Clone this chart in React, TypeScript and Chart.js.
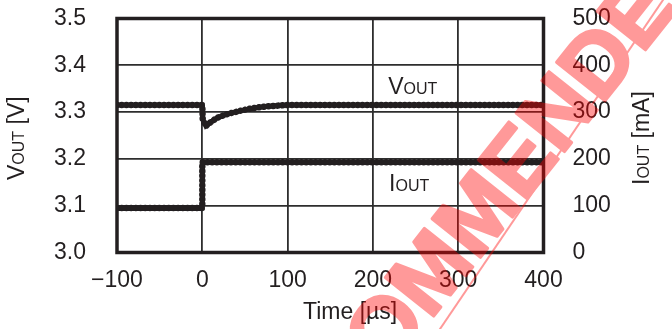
import React, { useEffect, useRef } from "react";
import { Chart, LineController, LineElement, PointElement, LinearScale } from "chart.js";

Chart.register(LineController, LineElement, PointElement, LinearScale);

// ---------- data ----------
const VOUT_TIME_US = [-100, 0, 0.5, 4, 8, 15, 20, 30, 36, 45, 55, 65, 75, 90, 100, 150, 200, 250, 300, 350, 400];
const VOUT_V = [3.315, 3.315, 3.285, 3.270, 3.276, 3.285, 3.290, 3.296, 3.299, 3.303, 3.307, 3.310, 3.312, 3.314, 3.315, 3.315, 3.315, 3.315, 3.315, 3.315, 3.315];

const IOUT_TIME_US = [-100, 0, 0, 100, 200, 300, 400];
const IOUT_MA = [95, 95, 193, 193, 193, 193, 193];

const X_RANGE = [-100, 400];
const X_STEP = 100;
const VOUT_RANGE = [3.0, 3.5];
const VOUT_STEP = 0.1;
const IOUT_RANGE = [0, 500];
const IOUT_STEP = 100;

const X_TITLE = "Time [µs]";
const WATERMARK = "NOT RECOMMENDED FOR NEW DESIGNS";

const FONT = '"Liberation Sans", Arial, Helvetica, sans-serif';
const INK = "#231f20";
const BIG = 23;
const SMALL = 16;

type Part = [string, number];

function drawParts(ctx: CanvasRenderingContext2D, parts: Part[], x: number, y: number, angle: number) {
  ctx.save();
  ctx.translate(x, y);
  ctx.rotate(angle);
  ctx.textBaseline = "alphabetic";
  ctx.textAlign = "left";
  ctx.fillStyle = INK;
  let cx = 0;
  for (const [t, s] of parts) {
    ctx.font = `${s}px ${FONT}`;
    ctx.fillText(t, cx, 0);
    cx += ctx.measureText(t).width;
  }
  ctx.restore();
}

const textPlugin = {
  id: "texts",
  afterDatasetsDraw(chart: any) {
    const { ctx, chartArea, scales } = chart;
    ctx.save();
    ctx.strokeStyle = INK;
    ctx.lineWidth = 3.5;
    ctx.strokeRect(chartArea.left, chartArea.top, chartArea.right - chartArea.left, chartArea.bottom - chartArea.top);
    ctx.restore();
    const x = scales.x, y = scales.y, y2 = scales.y2;
    drawParts(ctx, [["V", BIG], ["OUT", SMALL]], x.getPixelForValue(218), y.getPixelForValue(3.339), 0);
    drawParts(ctx, [["I", BIG], ["OUT", SMALL]], x.getPixelForValue(219), y2.getPixelForValue(131), 0);
  },
  afterDraw(chart: any) {
    const { ctx } = chart;
    drawParts(ctx, [["V", BIG], ["OUT", SMALL], [" [V]", BIG]], 24, 180, -Math.PI / 2);
    drawParts(ctx, [["I", BIG], ["OUT", SMALL], [" [mA]", BIG]], 648.5, 185, -Math.PI / 2);
    drawParts(ctx, [[X_TITLE, BIG]], 303, 318.5, 0);

    // watermark: drawn opaque on a layer, then composited translucently
    const layer = document.createElement("canvas");
    layer.width = chart.width;
    layer.height = chart.height;
    const lc = layer.getContext("2d")!;
    lc.fillStyle = "#ff0000";
    lc.strokeStyle = "#ff0000";
    const size = 90;
    lc.font = `bold ${size}px ${FONT}`;
    lc.save();
    lc.translate(383, 328);
    lc.rotate((-51.5 * Math.PI) / 180);
    const pre = lc.measureText("NOT REC").width;
    const ow = lc.measureText("O").width;
    lc.textBaseline = "alphabetic";
    lc.lineWidth = 3;
    lc.lineJoin = "round";
    lc.fillText(WATERMARK, -pre - ow / 2, 0.358 * size);
    lc.strokeText(WATERMARK, -pre - ow / 2, 0.358 * size);
    lc.restore();
    lc.lineWidth = 2;
    lc.beginPath();
    lc.moveTo(440 - 22.3, 329 + 32.9);
    lc.lineTo(663 + 22.3, 0 - 32.9);
    lc.stroke();
    ctx.save();
    ctx.globalAlpha = 0.4;
    ctx.drawImage(layer, 0, 0);
    ctx.restore();
  },
};

function pts(t: number[], v: number[]) {
  return t.map((x, i) => ({ x, y: v[i] }));
}

const noVPad = (s: any) => { s.paddingTop = 0; s.paddingBottom = 0; };

export default function App() {
  const ref = useRef<HTMLCanvasElement>(null);
  useEffect(() => {
    if (!ref.current) return;
    const vData = pts(VOUT_TIME_US, VOUT_V);
    const iData = pts(IOUT_TIME_US, IOUT_MA);
    const base = { pointRadius: 0, tension: 0, fill: false, borderColor: INK };
    const chart: any = new Chart(ref.current, {
      type: "line",
      data: {
        datasets: [
          { ...base, data: vData, yAxisID: "y", borderWidth: 4.5 },
          { ...base, data: vData, yAxisID: "y", borderWidth: 6.5, borderDash: [0.1, 4.6], borderCapStyle: "round" },
          { ...base, data: iData, yAxisID: "y2", borderWidth: 4.5 },
          { ...base, data: iData, yAxisID: "y2", borderWidth: 6.5, borderDash: [0.1, 4.6], borderCapStyle: "round" },
        ] as any,
      },
      options: {
        animation: false,
        responsive: false,
        devicePixelRatio: 1,
        layout: { padding: { top: 18.5, left: 0, right: 0, bottom: 0 } },
        scales: {
          x: {
            type: "linear",
            min: X_RANGE[0],
            max: X_RANGE[1],
            grid: { color: "#2e2e2e", lineWidth: 1.8, drawTicks: false },
            border: { display: false },
            ticks: {
              stepSize: X_STEP,
              padding: 14,
              color: INK,
              font: { family: FONT, size: BIG },
              maxRotation: 0,
              callback: (v: any) => (v < 0 ? "\u2212" + Math.abs(v) : String(v)),
            },
            afterFit: (s: any) => { s.height = 329 - 252.5; },
          },
          y: {
            position: "left",
            min: VOUT_RANGE[0],
            max: VOUT_RANGE[1],
            grid: { color: "#2e2e2e", lineWidth: 1.8, drawTicks: false },
            border: { display: false },
            ticks: {
              stepSize: VOUT_STEP,
              padding: 31,
              color: INK,
              font: { family: FONT, size: BIG },
              callback: (v: any) => Number(v).toFixed(1),
            },
            afterFit: (s: any) => { s.width = 117; noVPad(s); },
          },
          y2: {
            position: "right",
            min: IOUT_RANGE[0],
            max: IOUT_RANGE[1],
            grid: { display: false, drawTicks: false },
            border: { display: false },
            ticks: {
              stepSize: IOUT_STEP,
              padding: 29,
              color: INK,
              font: { family: FONT, size: BIG },
            },
            afterFit: (s: any) => { s.width = 672 - 543.5; noVPad(s); },
          },
        },
      },
      plugins: [textPlugin],
    });
    return () => chart.destroy();
  }, []);
  return (
    <div style={{ position: "absolute", left: 0, top: 0, width: 672, height: 329, background: "#fff" }}>
      <canvas ref={ref} width={672} height={329} style={{ width: 672, height: 329, display: "block" }} />
    </div>
  );
}
